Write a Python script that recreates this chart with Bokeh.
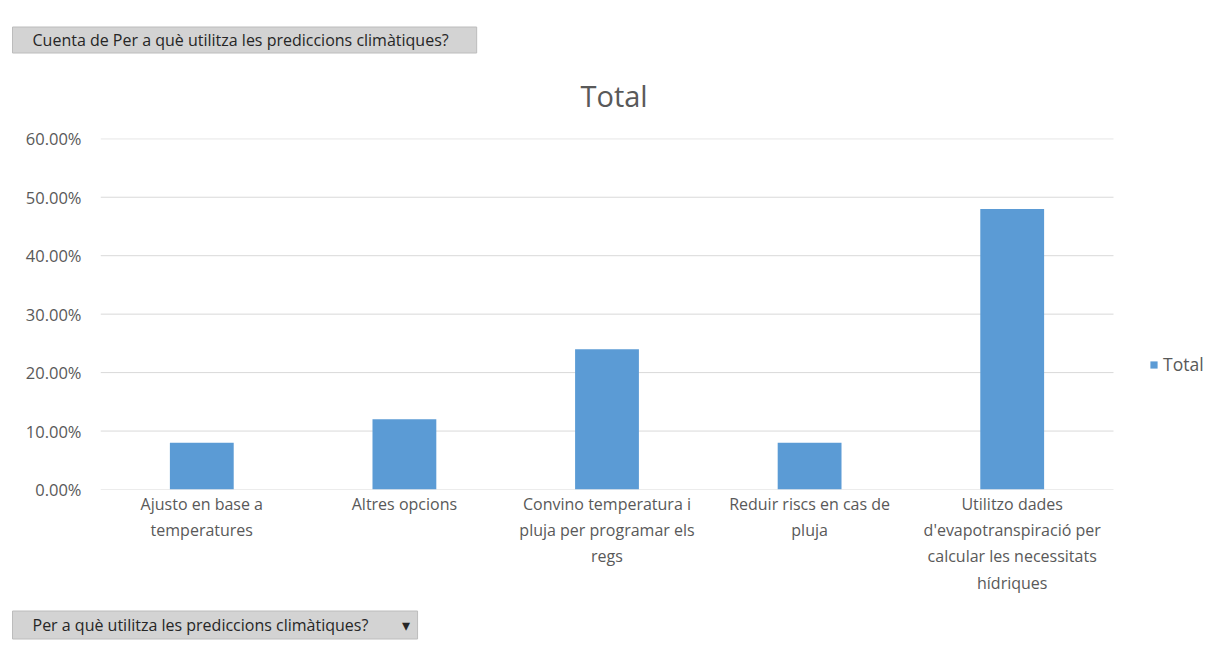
from bokeh.plotting import figure
from bokeh.models import (Range1d, NumeralTickFormatter, FixedTicker, Title,
                          Legend, LegendItem, ColumnDataSource)
from bokeh.embed import file_html
from bokeh.resources import INLINE

categories = [
    "Ajusto en base a\ntemperatures",
    "Altres opcions",
    "Convino temperatura i\npluja per programar els\nregs",
    "Reduir riscs en cas de\npluja",
    "Utilitzo dades\nd'evapotranspiració per\ncalcular les necessitats\nhídriques",
]
values = [0.08, 0.12, 0.24, 0.08, 0.48]
y_ticks = [0.0, 0.1, 0.2, 0.3, 0.4, 0.5, 0.6]
series_name = "Total"
title_text = "Total"
top_button_text = "Cuenta de Per a què utilitza les prediccions climàtiques?"
bottom_button_text = "Per a què utilitza les prediccions climàtiques?" + "\u00a0" * 8 + "▾"

FONT = "Open Sans"
W, H = 1226, 651
L, T, B = 100, 138, 162
PLOT_RIGHT = 1113            # right edge of the category area, in canvas pixels
n = len(categories)
pos = list(range(n))
# frame spans L..W; the categories occupy L..PLOT_RIGHT
x_start = -0.5
x_end = -0.5 + n * (W - L) / (PLOT_RIGHT - L)

src = ColumnDataSource(dict(x=pos, val=values, cat=categories))

p = figure(x_range=Range1d(x_start, x_end), y_range=(0, 0.6005),
           width=W, height=H, output_backend="svg", toolbar_location=None,
           min_border_left=L, min_border_right=0, min_border_top=T, min_border_bottom=B)
p.outline_line_color = None
p.background_fill_color = "white"
p.border_fill_color = "white"

# horizontal gridlines across the category area only
p.xgrid.grid_line_color = None
p.ygrid.grid_line_color = None
p.segment(x0=[x_start] * len(y_ticks), x1=[x_start + n] * len(y_ticks),
          y0=y_ticks, y1=y_ticks, line_color="#d9d9d9", line_width=1)

r = p.vbar(x="x", top="val", width=0.315, source=src, fill_color="#5B9BD5", line_color=None)

# axes
p.yaxis.ticker = FixedTicker(ticks=y_ticks)
p.yaxis.formatter = NumeralTickFormatter(format="0.00%")
p.yaxis.axis_line_color = None
p.yaxis.major_tick_line_color = None
p.yaxis.minor_tick_line_color = None
p.yaxis.major_label_text_font = FONT
p.yaxis.major_label_text_font_size = "16.5px"
p.yaxis.major_label_text_color = "#595959"
p.yaxis.major_label_standoff = 13

p.xaxis.ticker = FixedTicker(ticks=pos)
p.xaxis.major_label_overrides = {i: c for i, c in zip(pos, categories)}
p.xaxis.axis_line_color = None
p.xaxis.major_tick_line_color = None
p.xaxis.minor_tick_line_color = None
p.xaxis.major_label_text_font = FONT
p.xaxis.major_label_text_font_size = "16px"
p.xaxis.major_label_text_color = "#595959"
p.xaxis.major_label_standoff = -3

# legend inside the (wide) frame, to the right of the category area
legend = Legend(items=[LegendItem(label=series_name, renderers=[r])],
                location=(1049, 113), border_line_color=None, background_fill_alpha=0,
                label_text_font=FONT, label_text_font_size="17.5px",
                label_text_color="#595959", glyph_width=9, glyph_height=9,
                label_standoff=5, padding=0, margin=0)
p.add_layout(legend, "center")

# chart title
p.add_layout(Title(text=title_text, align="left", offset=480, text_font=FONT,
                   text_font_size="29px", text_font_style="normal", text_color="#595959",
                   standoff=47), "above")

# field buttons
p.add_layout(Title(text=top_button_text, align="left", offset=-88, text_font=FONT,
                   text_font_size="16px", text_font_style="normal", text_color="#262626",
                   background_fill_color="#d3d3d3", border_line_color="#bcbcbc",
                   padding=(20, 28, 2, 2), standoff=-5), "above")
p.add_layout(Title(text=bottom_button_text, align="left", offset=-88, text_font=FONT,
                   text_font_size="16px", text_font_style="normal", text_color="#262626",
                   background_fill_color="#d3d3d3", border_line_color="#bcbcbc",
                   padding=(20, 8, 3, 3), standoff=25), "below")

open("out.html", "w").write(file_html(p, INLINE))
